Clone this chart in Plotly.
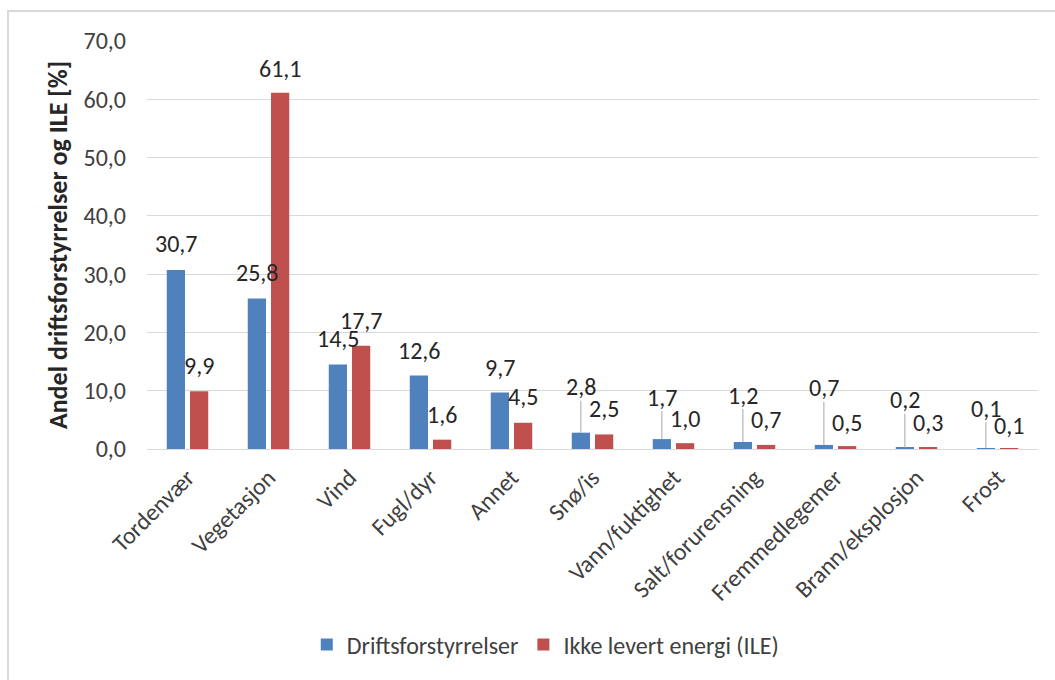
import plotly.graph_objects as go

# Causes of faults: share of operational disturbances and of energy not supplied
categories = ["Tordenvær", "Vegetasjon", "Vind", "Fugl/dyr", "Annet", "Snø/is",
              "Vann/fuktighet", "Salt/forurensning", "Fremmedlegemer",
              "Brann/eksplosjon", "Frost"]
drifts = [30.7, 25.8, 14.5, 12.6, 9.7, 2.8, 1.7, 1.2, 0.7, 0.2, 0.1]
ile = [9.9, 61.1, 17.7, 1.6, 4.5, 2.5, 1.0, 0.7, 0.5, 0.3, 0.1]
y_ticks = [0, 10, 20, 30, 40, 50, 60, 70]

# label lift above the bar top (px); raised labels get a leader line
drifts_lift = [27, 26, 26, 25, 25, 46, 42, 47, 57, 48, 40]
ile_lift = [26, 24, 25, 25, 26, 26, 25, 25, 24, 25, 23]
leader = [False, False, False, False, False, True, True, True, True, True, True]

BLUE = "#4F81BD"
RED = "#C0504D"
FONT = "Carlito, Lato, sans-serif"
TXT = "#404040"
LBL = "#262626"
FS = 24

BAR_W = 0.225
BLUE_OFF = -0.256
RED_OFF = 0.031

xs = list(range(len(categories)))


def fmt(v):
    return f"{v:.1f}".replace(".", ",")


fig = go.Figure()
fig.add_trace(go.Bar(x=xs, y=drifts, name="Driftsforstyrrelser", marker_color=BLUE,
                     width=BAR_W, offset=BLUE_OFF, marker_line_width=0))
fig.add_trace(go.Bar(x=xs, y=ile, name="Ikke levert energi (ILE)", marker_color=RED,
                     width=BAR_W, offset=RED_OFF, marker_line_width=0))

annotations = []
shapes = []
for i in xs:
    bx = i + BLUE_OFF + BAR_W / 2
    rx = i + RED_OFF + BAR_W / 2
    annotations.append(dict(x=bx, y=drifts[i], xref="x", yref="y", text=fmt(drifts[i]),
                            showarrow=False, yshift=drifts_lift[i], yanchor="middle",
                            font=dict(family=FONT, size=FS, color=LBL)))
    annotations.append(dict(x=rx, y=ile[i], xref="x", yref="y", text=fmt(ile[i]),
                            showarrow=False, yshift=ile_lift[i], yanchor="middle",
                            font=dict(family=FONT, size=FS, color=LBL)))
    if leader[i]:
        shapes.append(dict(type="line", xref="x", yref="y", ysizemode="pixel",
                           yanchor=drifts[i], x0=bx, x1=bx, y0=0,
                           y1=drifts_lift[i] - 14,
                           line=dict(color="#a6a6a6", width=1), layer="above"))

# outer chart frame
shapes.append(dict(type="rect", xref="paper", yref="paper",
                   x0=(8 - 147) / 891, x1=1.05, y0=-0.7, y1=(449 - 11) / 408,
                   line=dict(color="#d9d9d9", width=2), fillcolor="rgba(0,0,0,0)",
                   layer="below"))

fig.update_layout(
    width=1055, height=680,
    margin=dict(l=147, r=17, t=41, b=231),
    paper_bgcolor="white", plot_bgcolor="white",
    barmode="group",
    font=dict(family=FONT, size=FS, color=TXT),
    showlegend=True,
    legend=dict(orientation="h", x=0.447, xanchor="center", y=-0.48, yanchor="middle",
                font=dict(family=FONT, size=FS, color=TXT), itemclick=False),
    annotations=annotations,
    shapes=shapes,
)
fig.update_xaxes(range=[-0.5, len(categories) - 0.5], tickmode="array", tickvals=xs,
                 ticktext=categories, tickangle=-45, showgrid=False, zeroline=False,
                 showline=True, linecolor="#d9d9d9", linewidth=1, ticks="",
                 ticklabelstandoff=4, tickfont=dict(family=FONT, size=FS, color=TXT))
fig.update_yaxes(range=[0, 70], tickmode="array", tickvals=y_ticks,
                 ticktext=[fmt(v) for v in y_ticks], showgrid=True, gridcolor="#d9d9d9",
                 gridwidth=1, zeroline=False, showline=False, ticks="",
                 ticklabelstandoff=20, tickfont=dict(family=FONT, size=FS, color=TXT),
                 title=dict(text="<b>Andel driftsforstyrrelser og ILE [%]</b>",
                            font=dict(family=FONT, size=26, color=LBL), standoff=8))

fig.write_html("out.html")
